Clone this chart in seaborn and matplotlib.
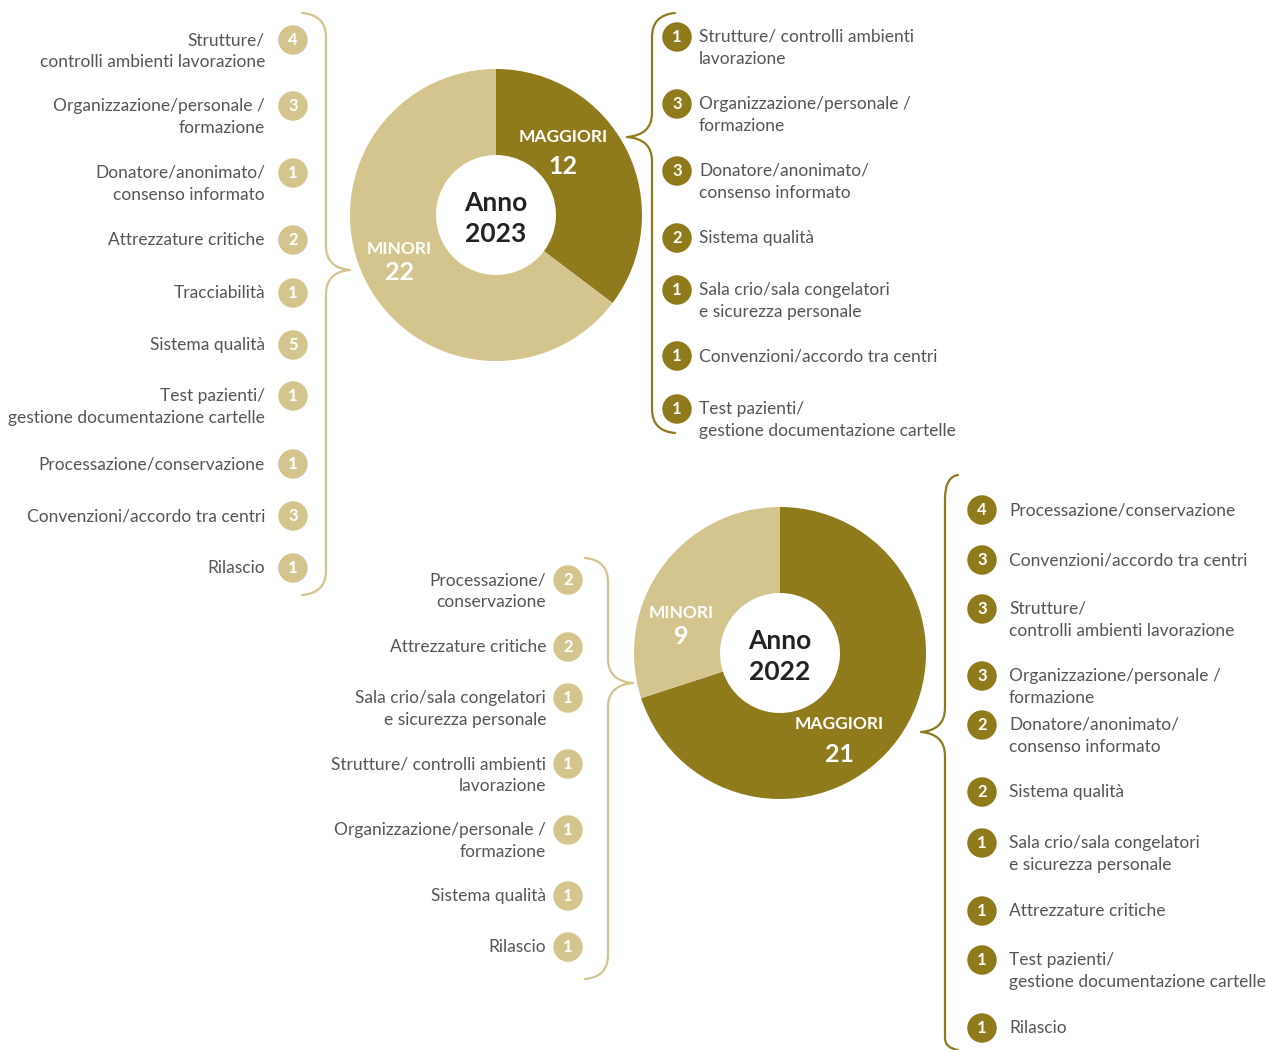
import numpy as np
import pandas as pd
import matplotlib
matplotlib.use("Agg")
import matplotlib.pyplot as plt
from matplotlib.path import Path
from matplotlib.patches import PathPatch
import seaborn as sns

# ---- data -------------------------------------------------------------
years = ["2023", "2022"]
totals_2023 = [12, 22]          # maggiori, minori
totals_2022 = [21, 9]
part_names = ["MAGGIORI", "MINORI"]

minori_2023_labels = [
    "Strutture/\ncontrolli ambienti lavorazione",
    "Organizzazione/personale /\nformazione",
    "Donatore/anonimato/\nconsenso informato",
    "Attrezzature critiche",
    "Tracciabilità",
    "Sistema qualità",
    "Test pazienti/\ngestione documentazione cartelle",
    "Processazione/conservazione",
    "Convenzioni/accordo tra centri",
    "Rilascio",
]
minori_2023_counts = [4, 3, 1, 2, 1, 5, 1, 1, 3, 1]

maggiori_2023_labels = [
    "Strutture/ controlli ambienti\nlavorazione",
    "Organizzazione/personale /\nformazione",
    "Donatore/anonimato/\nconsenso informato",
    "Sistema qualità",
    "Sala crio/sala congelatori\ne sicurezza personale",
    "Convenzioni/accordo tra centri",
    "Test pazienti/\ngestione documentazione cartelle",
]
maggiori_2023_counts = [1, 3, 3, 2, 1, 1, 1]

minori_2022_labels = [
    "Processazione/\nconservazione",
    "Attrezzature critiche",
    "Sala crio/sala congelatori\ne sicurezza personale",
    "Strutture/ controlli ambienti\nlavorazione",
    "Organizzazione/personale /\nformazione",
    "Sistema qualità",
    "Rilascio",
]
minori_2022_counts = [2, 2, 1, 1, 1, 1, 1]

maggiori_2022_labels = [
    "Processazione/conservazione",
    "Convenzioni/accordo tra centri",
    "Strutture/\ncontrolli ambienti lavorazione",
    "Organizzazione/personale /\nformazione",
    "Donatore/anonimato/\nconsenso informato",
    "Sistema qualità",
    "Sala crio/sala congelatori\ne sicurezza personale",
    "Attrezzature critiche",
    "Test pazienti/\ngestione documentazione cartelle",
    "Rilascio",
]
maggiori_2022_counts = [4, 3, 3, 3, 2, 2, 1, 1, 1, 1]

# ---- style ------------------------------------------------------------
sns.set_theme(style="white")
DARK, LIGHT = sns.color_palette(["#8f7a1c", "#d4c58e"])
TEXT = "#555555"
plt.rcParams["font.family"] = ["Lato", "DejaVu Sans"]

W, H = 1266, 1050
fig = plt.figure(figsize=(W / 100, H / 100), dpi=100)
ax = fig.add_axes([0, 0, 1, 1])


def Y(y):
    """page coordinate (top-down) -> axis coordinate"""
    return H - y


def donut(values, cx, cy, year, label_pos):
    ax.pie(values, colors=[DARK, LIGHT], startangle=90, counterclock=False,
           radius=146, center=(cx, Y(cy)),
           wedgeprops=dict(width=86, linewidth=0), frame=True)
    ax.text(cx, Y(cy - 12), "Anno", ha="center", va="center",
            fontsize=19, fontweight="bold", color="#222222")
    ax.text(cx, Y(cy + 19), year, ha="center", va="center",
            fontsize=19, fontweight="bold", color="#222222")
    for name, v, (lx, ly, dy) in zip(part_names, values, label_pos):
        ax.text(lx, Y(ly), name, ha="center", va="center", fontsize=12.5,
                fontweight="bold", color="white")
        ax.text(lx, Y(ly + dy), str(v), ha="center", va="center",
                fontsize=18, fontweight="bold", color="white")


def item_list(labels, counts, rows, cx, color, side, gap):
    df = pd.DataFrame({"x": [cx] * len(counts), "y": [Y(r) for r in rows],
                       "n": counts})
    sns.scatterplot(data=df, x="x", y="y", s=450, color=color,
                    edgecolor="none", ax=ax, legend=False, zorder=3)
    for lab, n, r in zip(labels, counts, rows):
        ax.text(cx, Y(r), str(n), ha="center", va="center", fontsize=12,
                fontweight="bold", color="white", zorder=4)
        for i, line in enumerate(lab.split("\n")):
            if side == "left":
                ax.text(cx - gap, Y(r + 22 * i), line, ha="right",
                        va="center", fontsize=12.5, color=TEXT)
            else:
                ax.text(cx + gap, Y(r + 22 * i), line, ha="left",
                        va="center", fontsize=12.5, color=TEXT)


def brace(x_end, x_line, y_top, y_bot, tip_x, tip_y, color, r=24, rb=24):
    pts = [(x_end, y_top), (x_line, y_top + 2), (x_line, y_top + r),
           (x_line, tip_y - r), (x_line, tip_y - 2), (tip_x, tip_y),
           (x_line, tip_y + 2), (x_line, tip_y + r),
           (x_line, y_bot - rb), (x_line, y_bot - 2), (x_end, y_bot)]
    codes = [Path.MOVETO, Path.CURVE3, Path.CURVE3,
             Path.LINETO, Path.CURVE3, Path.CURVE3,
             Path.CURVE3, Path.CURVE3,
             Path.LINETO, Path.CURVE3, Path.CURVE3]
    path = Path([(x, Y(y)) for x, y in pts], codes)
    ax.add_patch(PathPatch(path, fill=False, edgecolor=color, lw=1.6,
                           capstyle="round", joinstyle="round"))


# 2023
donut(totals_2023, 496, 215, years[0], [(563, 137, 30), (399, 249, 24)])
item_list(minori_2023_labels, minori_2023_counts,
          [40, 106, 173, 240, 293, 345, 396, 464, 516, 568], 293, LIGHT,
          "left", 28)
item_list(maggiori_2023_labels, maggiori_2023_counts,
          [37, 104, 171, 238, 290, 356, 409], 677, DARK, "right", 22)
brace(302, 326, 13, 595, 350, 270, LIGHT)
brace(675, 652, 13, 433, 627, 137, DARK)

# 2022
donut(totals_2022, 780, 653, years[1], [(839, 724, 30), (681, 613, 24)])
item_list(minori_2022_labels, minori_2022_counts,
          [580, 647, 698, 764, 830, 896, 947], 568, LIGHT, "left", 22)
item_list(maggiori_2022_labels, maggiori_2022_counts,
          [510, 560, 609, 676, 725, 792, 843, 911, 960, 1028], 982, DARK,
          "right", 27)
brace(585, 608, 558, 979, 633, 683, LIGHT)
brace(958, 945, 475, 1050, 921, 732, DARK, r=24, rb=12)

ax.set_xlim(0, W)
ax.set_ylim(0, H)
ax.set_aspect("equal")
ax.set_axis_off()
fig.savefig("out.png", dpi=100, facecolor="white")
